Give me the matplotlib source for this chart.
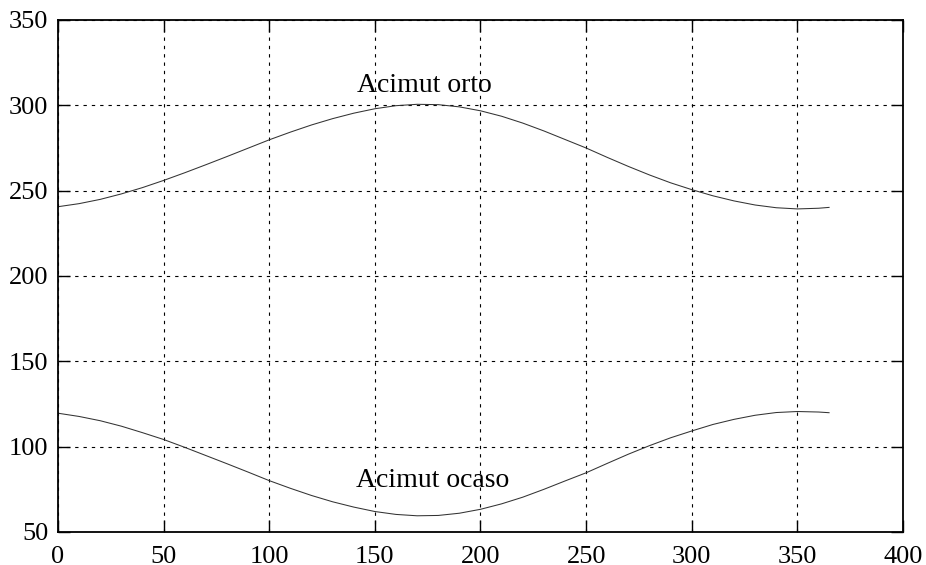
import matplotlib
matplotlib.use("Agg")
import matplotlib.pyplot as plt

days = [0, 10, 20, 30, 40, 50, 60, 70, 80, 90, 100, 110, 120, 130, 140, 150, 160, 170,
        180, 190, 200, 210, 220, 230, 240, 250, 260, 270, 280, 290, 300, 310, 320, 330,
        340, 350, 360, 365]
orto = [240.6, 242.4, 244.9, 248.1, 251.8, 256.0, 260.5, 265.2, 270.0, 274.9, 279.8,
        284.3, 288.5, 292.2, 295.4, 298.0, 299.8, 300.6, 300.4, 299.1, 296.8, 293.6,
        289.6, 285.0, 280.0, 275.0, 269.5, 264.2, 259.2, 254.6, 250.6, 247.0, 244.0,
        241.6, 240.0, 239.3, 239.7, 240.2]
ocaso = [119.6, 117.7, 115.2, 112.0, 108.2, 104.2, 99.6, 94.8, 90.0, 85.1, 80.1, 75.6,
         71.4, 67.7, 64.6, 62.0, 60.3, 59.5, 59.7, 61.0, 63.3, 66.5, 70.4, 75.0, 79.9,
         84.7, 90.2, 95.6, 100.6, 105.2, 109.2, 113.0, 116.0, 118.4, 120.0, 120.6, 120.3,
         119.9]
xticks = [0, 50, 100, 150, 200, 250, 300, 350, 400]
yticks = [50, 100, 150, 200, 250, 300, 350]
label_orto = "Acimut orto"
label_ocaso = "Acimut ocaso"

plt.rcParams['font.family'] = ['Liberation Serif', 'DejaVu Serif']

fig = plt.figure(figsize=(9.26, 5.65), dpi=100)
ax = fig.add_axes([58/926, 33/565, (903-58)/926, (532-20)/565])

ax.plot(days, orto, color='#333333', lw=0.75)
ax.plot(days, ocaso, color='#333333', lw=0.75)

ax.set_xlim(0, 400)
ax.set_ylim(50, 350)
ax.set_xticks(xticks)
ax.set_yticks(yticks)
ax.tick_params(direction='in', length=8.5, width=1.0, top=True, right=True,
               labelsize=19, colors='black')
ax.tick_params(axis='y', pad=7)
ax.tick_params(axis='x', pad=10)
for s in ax.spines.values():
    s.set_linewidth(1.3)
ax.grid(True, color='black', lw=0.8, linestyle=(0, (3.0, 4.5)))

ax.text(173.5, 308, label_orto, ha='center', va='baseline', fontsize=20)
ax.text(177.5, 76.5, label_ocaso, ha='center', va='baseline', fontsize=20)

fig.savefig("out.png", dpi=100)
